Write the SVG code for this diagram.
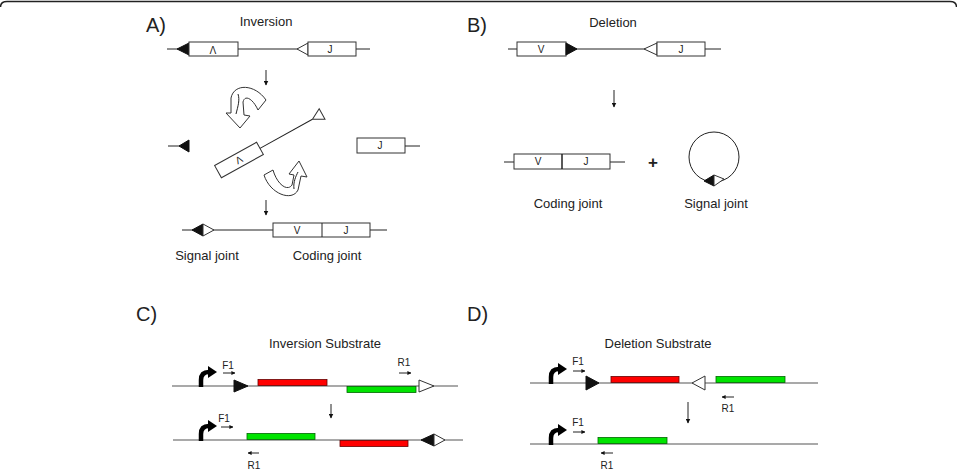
<svg xmlns="http://www.w3.org/2000/svg" width="957" height="470" viewBox="0 0 957 470">
<defs>
<style>
text{font-family:"Liberation Sans",Arial,sans-serif;fill:#222}
.lbl{font-size:20px}
.ttl{font-size:13px;text-anchor:middle}
.seg{font-size:10px;text-anchor:middle}
.pr{font-size:10px;text-anchor:middle}
.ln{stroke:#222;stroke-width:1;fill:none}
.gl{stroke:#555;stroke-width:1.2;fill:none}
.box{fill:#fff;stroke:#333;stroke-width:1}
.fill{fill:#111;stroke:#111;stroke-width:1}
.open{fill:#fff;stroke:#333;stroke-width:1}
.red{fill:#f00;stroke:#600;stroke-width:0.8}
.green{fill:#00e400;stroke:#060;stroke-width:0.8}
.prom{stroke:#000;stroke-width:4.5;fill:none}
.curv{fill:#fff;stroke:#333;stroke-width:1}
</style>
<marker id="ah" viewBox="0 0 10 10" refX="9" refY="5" markerWidth="5" markerHeight="5" orient="auto"><path d="M0,0 L10,5 L0,10 z" fill="#111"/></marker>
<marker id="ahs" viewBox="0 0 10 10" refX="9" refY="5" markerWidth="4" markerHeight="4" orient="auto"><path d="M0,0 L10,5 L0,10 z" fill="#111"/></marker>
</defs>
<rect width="957" height="470" fill="#fff"/>
<path d="M0.5,7 Q0.5,1.5 7,1.5 H950 Q956.5,1.5 956.5,7" stroke="#222" stroke-width="1.5" fill="none"/>

<g id="panelA">
<text class="lbl" x="146" y="32">A)</text>
<text class="ttl" x="266" y="26">Inversion</text>
<g id="A-germline">
<line class="ln" x1="167" y1="49" x2="370" y2="49"/>
<polygon class="fill" points="177,49 189,43 189,55"/>
<rect class="box" x="189" y="42" width="49" height="14"/>
<text class="seg" transform="translate(213,49) rotate(180)" y="3.5">V</text>
<polygon class="open" points="297,49 308,43 308,55"/>
<rect class="box" x="308" y="42" width="48" height="14"/>
<text class="seg" x="330" y="53">J</text>
</g>
<line class="ln" x1="266" y1="70" x2="266" y2="85" marker-end="url(#ah)"/>
<g id="A-intermediate">
<line class="ln" x1="168" y1="146" x2="180" y2="146"/>
<polygon class="fill" points="179,146 189,140 189,152"/>
<g transform="translate(239,160) rotate(-29)">
<rect class="box" x="-24" y="-7" width="48" height="14"/>
<text class="seg" y="3.5" transform="rotate(180)">V</text>
<line class="ln" x1="24" y1="0" x2="84" y2="0"/>
<polygon class="open" points="84,0 95,-6 95,6"/>
</g>
<rect class="box" x="357" y="138" width="48" height="15"/>
<text class="seg" x="380" y="149">J</text>
<line class="ln" x1="405" y1="146" x2="420" y2="146"/>
<path class="curv" d="M266,100 C255,84 234,83 231,98 L231,113 L226,113 L240,128 L250,116 L244,115 L243,102 C245,94 253,99 258,110 Z"/>
<path class="ln" d="M238,94 C240,100 238,106 236,114" stroke-width="0.7"/>
<path class="curv" d="M264,175 C270,194 292,202 298,190 L301,176 L307,177 L299,161 L289,174 L294,175 L292,185 C287,192 277,184 273,170 Z"/>
<path class="ln" d="M294,189 C293,182 296,176 298,172" stroke-width="0.7"/>
</g>
<line class="ln" x1="266" y1="200" x2="266" y2="215" marker-end="url(#ah)"/>
<g id="A-product">
<line class="ln" x1="182" y1="230" x2="387" y2="230"/>
<polygon class="fill" points="192,230 203,224 203,236"/>
<polygon class="open" points="203,224 214,230 203,236"/>
<rect class="box" x="273" y="223" width="97" height="14"/>
<line class="ln" x1="322" y1="223" x2="322" y2="237"/>
<text class="seg" x="297" y="234">V</text>
<text class="seg" x="346" y="234">J</text>
<text class="ttl" x="207" y="260">Signal joint</text>
<text class="ttl" x="327" y="260">Coding joint</text>
</g>
</g>

<g id="panelB">
<text class="lbl" x="467" y="32">B)</text>
<text class="ttl" x="613" y="27">Deletion</text>
<g id="B-germline">
<line class="ln" x1="508" y1="49" x2="721" y2="49"/>
<rect class="box" x="517" y="42" width="49" height="14"/>
<text class="seg" x="541" y="53">V</text>
<polygon class="fill" points="566,43 577,49 566,55"/>
<polygon class="open" points="644,49 657,43 657,55"/>
<rect class="box" x="657" y="42" width="48" height="14"/>
<text class="seg" x="681" y="53">J</text>
</g>
<line class="ln" x1="614" y1="90" x2="614" y2="107" marker-end="url(#ah)"/>
<g id="B-coding">
<line class="ln" x1="504" y1="162" x2="625" y2="162"/>
<rect class="box" x="514" y="154" width="96" height="15"/>
<line x1="562" y1="154" x2="562" y2="169" stroke="#222" stroke-width="1.5"/>
<text class="seg" x="538" y="165">V</text>
<text class="seg" x="586" y="165">J</text>
<text class="ttl" x="568" y="208">Coding joint</text>
</g>
<text x="653" y="168" font-size="17" text-anchor="middle" font-weight="bold">+</text>
<g id="B-signal">
<circle cx="714" cy="157" r="25" fill="none" stroke="#222" stroke-width="1"/>
<polygon class="fill" points="704,181 714,175 714,186"/>
<polygon class="open" points="714,175 724,179 714,186"/>
<text class="ttl" x="716" y="208">Signal joint</text>
</g>
</g>

<g id="panelC">
<text class="lbl" x="136" y="321">C)</text>
<text class="ttl" x="325" y="348">Inversion Substrate</text>
<g id="C-substrate">
<line class="gl" x1="172" y1="386" x2="458" y2="386"/>
<path class="prom" d="M201,387 V380 Q201,372 209,372"/>
<polygon points="208,366 217,372 208,378" fill="#000"/>
<text class="pr" x="228" y="369">F1</text>
<line class="ln" x1="223" y1="373" x2="235" y2="373" marker-end="url(#ahs)"/>
<polygon class="fill" points="234,380 248,386 234,392"/>
<rect class="red" x="258" y="379.5" width="69" height="6"/>
<rect class="green" x="347" y="386.5" width="69" height="6"/>
<text class="pr" x="404" y="366">R1</text>
<line class="ln" x1="399" y1="373" x2="411" y2="373" marker-end="url(#ahs)"/>
<polygon class="open" points="419,380 434,386 419,392"/>
</g>
<line class="ln" x1="331" y1="404" x2="331" y2="418" marker-end="url(#ah)"/>
<g id="C-product">
<line class="gl" x1="173" y1="440" x2="463" y2="440"/>
<path class="prom" d="M201,441 V434 Q201,426 209,426"/>
<polygon points="208,420 217,426 208,432" fill="#000"/>
<text class="pr" x="224" y="422">F1</text>
<line class="ln" x1="221" y1="427" x2="233" y2="427" marker-end="url(#ahs)"/>
<rect class="green" x="247" y="433.5" width="68" height="6"/>
<rect class="red" x="340" y="440.5" width="68" height="6"/>
<polygon class="fill" points="421,440 434,434 434,446"/>
<polygon class="open" points="434,434 445,440 434,446"/>
<line class="ln" x1="259" y1="453" x2="248" y2="453" marker-end="url(#ahs)"/>
<text class="pr" x="254" y="469">R1</text>
</g>
</g>

<g id="panelD">
<text class="lbl" x="467" y="321">D)</text>
<text class="ttl" x="658" y="348">Deletion Substrate</text>
<g id="D-substrate">
<line class="gl" x1="530" y1="383" x2="818" y2="383"/>
<path class="prom" d="M551,384 V377 Q551,369 559,369"/>
<polygon points="558,363 567,369 558,375" fill="#000"/>
<text class="pr" x="578" y="365">F1</text>
<line class="ln" x1="573" y1="371" x2="585" y2="371" marker-end="url(#ahs)"/>
<polygon class="fill" points="586,376 599,383 586,390"/>
<rect class="red" x="611" y="376.5" width="68" height="6"/>
<polygon class="open" points="692,383 705,376 705,390"/>
<rect class="green" x="716" y="376.5" width="69" height="6"/>
<line class="ln" x1="734" y1="397" x2="722" y2="397" marker-end="url(#ahs)"/>
<text class="pr" x="728" y="412">R1</text>
</g>
<line class="ln" x1="688" y1="402" x2="688" y2="423" marker-end="url(#ah)"/>
<g id="D-product">
<line class="gl" x1="530" y1="444" x2="818" y2="444"/>
<path class="prom" d="M551,445 V438 Q551,430 559,430"/>
<polygon points="558,424 567,430 558,436" fill="#000"/>
<text class="pr" x="578" y="426">F1</text>
<line class="ln" x1="573" y1="432" x2="585" y2="432" marker-end="url(#ahs)"/>
<rect class="green" x="598" y="437.5" width="69" height="6"/>
<line class="ln" x1="613" y1="453" x2="601" y2="453" marker-end="url(#ahs)"/>
<text class="pr" x="607" y="469">R1</text>
</g>
</g>
</svg>
